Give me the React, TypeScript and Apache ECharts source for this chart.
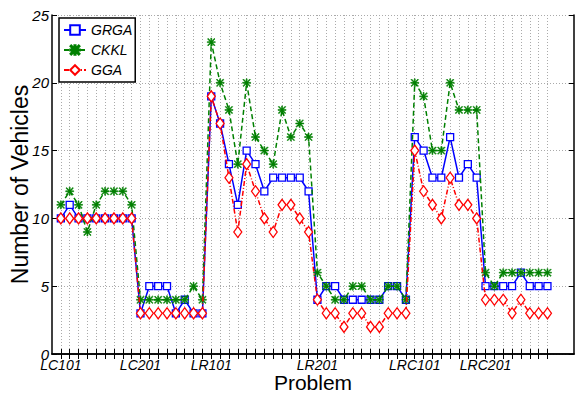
import React, { useEffect, useRef } from "react";
import * as echarts from "echarts";

const problems: string[] = [
  "LC101", "LC102", "LC103", "LC104", "LC105", "LC106", "LC107", "LC108", "LC109",
  "LC201", "LC202", "LC203", "LC204", "LC205", "LC206", "LC207", "LC208",
  "LR101", "LR102", "LR103", "LR104", "LR105", "LR106", "LR107", "LR108", "LR109", "LR110", "LR111", "LR112",
  "LR201", "LR202", "LR203", "LR204", "LR205", "LR206", "LR207", "LR208", "LR209", "LR210", "LR211",
  "LRC101", "LRC102", "LRC103", "LRC104", "LRC105", "LRC106", "LRC107", "LRC108",
  "LRC201", "LRC202", "LRC203", "LRC204", "LRC205", "LRC206", "LRC207", "LRC208",
];

const shownLabels: string[] = ["LC101", "LC201", "LR101", "LR201", "LRC101", "LRC201"];

const grga: number[] = [
  10, 11, 10, 10, 10, 10, 10, 10, 10,
  3, 5, 5, 5, 3, 4, 3, 3,
  19, 17, 14, 11, 15, 14, 12, 13, 13, 13, 13, 12,
  4, 5, 5, 4, 4, 4, 4, 4, 5, 5, 4,
  16, 15, 13, 13, 16, 13, 14, 13,
  5, 5, 5, 5, 6, 5, 5, 5,
];

const ckkl: number[] = [
  11, 12, 11, 9, 11, 12, 12, 12, 11,
  4, 4, 4, 4, 4, 4, 5, 4,
  23, 20, 18, 14, 20, 16, 15, 14, 18, 16, 17, 16,
  6, 5, 4, 4, 5, 5, 4, 4, 5, 5, 4,
  20, 19, 15, 15, 20, 18, 18, 18,
  6, 5, 6, 6, 6, 6, 6, 6,
];

const gga: number[] = [
  10, 10, 10, 10, 10, 10, 10, 10, 10,
  3, 3, 3, 3, 3, 3, 3, 3,
  19, 17, 13, 9, 14, 12, 10, 9, 11, 11, 10, 9,
  4, 3, 3, 2, 3, 3, 2, 2, 3, 3, 3,
  15, 12, 11, 10, 13, 11, 11, 10,
  4, 4, 4, 3, 4, 3, 3, 3,
];

const yTicks: number[] = [0, 5, 10, 15, 20, 25];

const FONT = "'Liberation Sans', Arial, sans-serif";

// asterisk marker: union of thin bars
const asterisk =
  "path://M4.4,0 L5.6,0 L5.6,10 L4.4,10 Z M0,4.4 L10,4.4 L10,5.6 L0,5.6 Z " +
  "M1.1,0.3 L9.7,8.9 L8.9,9.7 L0.3,1.1 Z M8.9,0.3 L9.7,1.1 L1.1,9.7 L0.3,8.9 Z";

export default function App() {
  const ref = useRef<HTMLDivElement>(null);

  useEffect(() => {
    if (!ref.current) return;
    const chart = echarts.init(ref.current, null, { renderer: "svg" });

    const cats: string[] = ["", ...problems, "", "", ""];
    const pad = (arr: number[]) => [null, ...arr, null, null, null];
    const inRange = (i: number) => i >= 1 && i <= problems.length;

    chart.setOption({
      animation: false,
      backgroundColor: "#fff",
      textStyle: { fontFamily: FONT },
      grid: { left: 52, top: 15, right: 2, bottom: 41, containLabel: false, outerBoundsMode: "none" },
      legend: {
        orient: "vertical",
        left: 59,
        top: 18,
        backgroundColor: "#fff",
        borderColor: "#000",
        borderWidth: 1.5,
        borderRadius: 0,
        padding: [5, 3, 5, 4],
        itemGap: 6,
        itemWidth: 22,
        itemHeight: 12,
        textStyle: { fontFamily: FONT, fontSize: 14, fontStyle: "italic", color: "#000" },
        data: ["GRGA", "CKKL", "GGA"],
      },
      xAxis: [
        {
          type: "category",
          data: cats,
          boundaryGap: false,
          position: "bottom",
          name: "Problem",
          nameLocation: "middle",
          nameGap: 18,
          nameMoveOverlap: false,
          nameTextStyle: { fontFamily: FONT, fontSize: 21, color: "#000", verticalAlign: "top" },
          axisLine: { lineStyle: { color: "#000", width: 1.5 } },
          axisTick: { inside: true, length: 5, interval: (i: number) => inRange(i), lineStyle: { color: "#000" } },
          axisLabel: {
            interval: 0,
            margin: 4,
            fontFamily: FONT,
            fontSize: 14,
            fontStyle: "italic",
            color: "#000",
            formatter: (v: string) => (shownLabels.includes(v) ? v : ""),
          },
          splitLine: {
            show: true,
            interval: (i: number) => inRange(i),
            lineStyle: { color: "#aaa", type: [1, 2], width: 1 },
          },
        },
        {
          type: "category",
          data: cats,
          boundaryGap: false,
          position: "top",
          axisLine: { lineStyle: { color: "#000", width: 1.5 } },
          axisTick: { inside: true, length: 5, interval: (i: number) => inRange(i), lineStyle: { color: "#000" } },
          axisLabel: { show: false },
          splitLine: { show: false },
        },
      ],
      yAxis: [
        {
          type: "value",
          min: 0,
          max: 25,
          interval: 5,
          position: "left",
          name: "Number of Vehicles",
          nameLocation: "middle",
          nameGap: 21,
          nameMoveOverlap: false,
          nameTextStyle: { fontFamily: FONT, fontSize: 23, color: "#000" },
          axisLine: { show: true, lineStyle: { color: "#000", width: 1.5 } },
          axisTick: { show: true, inside: true, length: 5, lineStyle: { color: "#000" } },
          axisLabel: {
            margin: 3,
            fontFamily: FONT,
            fontSize: 15,
            fontStyle: "italic",
            color: "#000",
            formatter: (v: number) => (yTicks.includes(v) ? String(v) : ""),
          },
          splitLine: { show: true, lineStyle: { color: "#aaa", type: [1, 2], width: 1 } },
        },
        {
          type: "value",
          min: 0,
          max: 25,
          interval: 5,
          position: "right",
          axisLine: { show: true, lineStyle: { color: "#000", width: 1.5 } },
          axisTick: { show: true, inside: true, length: 5, lineStyle: { color: "#000" } },
          axisLabel: { show: false },
          splitLine: { show: false },
        },
      ],
      series: [
        {
          name: "GRGA",
          type: "line",
          data: pad(grga),
          symbol: "rect",
          symbolSize: 7,
          showAllSymbol: true,
          itemStyle: { color: "#fff", borderColor: "#0000ff", borderWidth: 1.3 },
          lineStyle: { color: "#0000ff", width: 1.5 },
          z: 2,
        },
        {
          name: "CKKL",
          type: "line",
          data: pad(ckkl),
          symbol: asterisk,
          symbolSize: 8,
          showAllSymbol: true,
          itemStyle: { color: "#008000", borderColor: "#008000", borderWidth: 0.6 },
          lineStyle: { color: "#008000", width: 1.5, type: [5, 3] },
          z: 3,
        },
        {
          name: "GGA",
          type: "line",
          data: pad(gga),
          symbol: "diamond",
          symbolSize: [8, 11],
          showAllSymbol: true,
          itemStyle: { color: "#fff", borderColor: "#ff0000", borderWidth: 1.3 },
          lineStyle: { color: "#ff0000", width: 1.5, type: [5, 2, 1, 2] },
          z: 4,
        },
      ],
    });

    return () => chart.dispose();
  }, []);

  return <div ref={ref} style={{ position: "absolute", left: 0, top: 0, width: 576, height: 395 }} />;
}
